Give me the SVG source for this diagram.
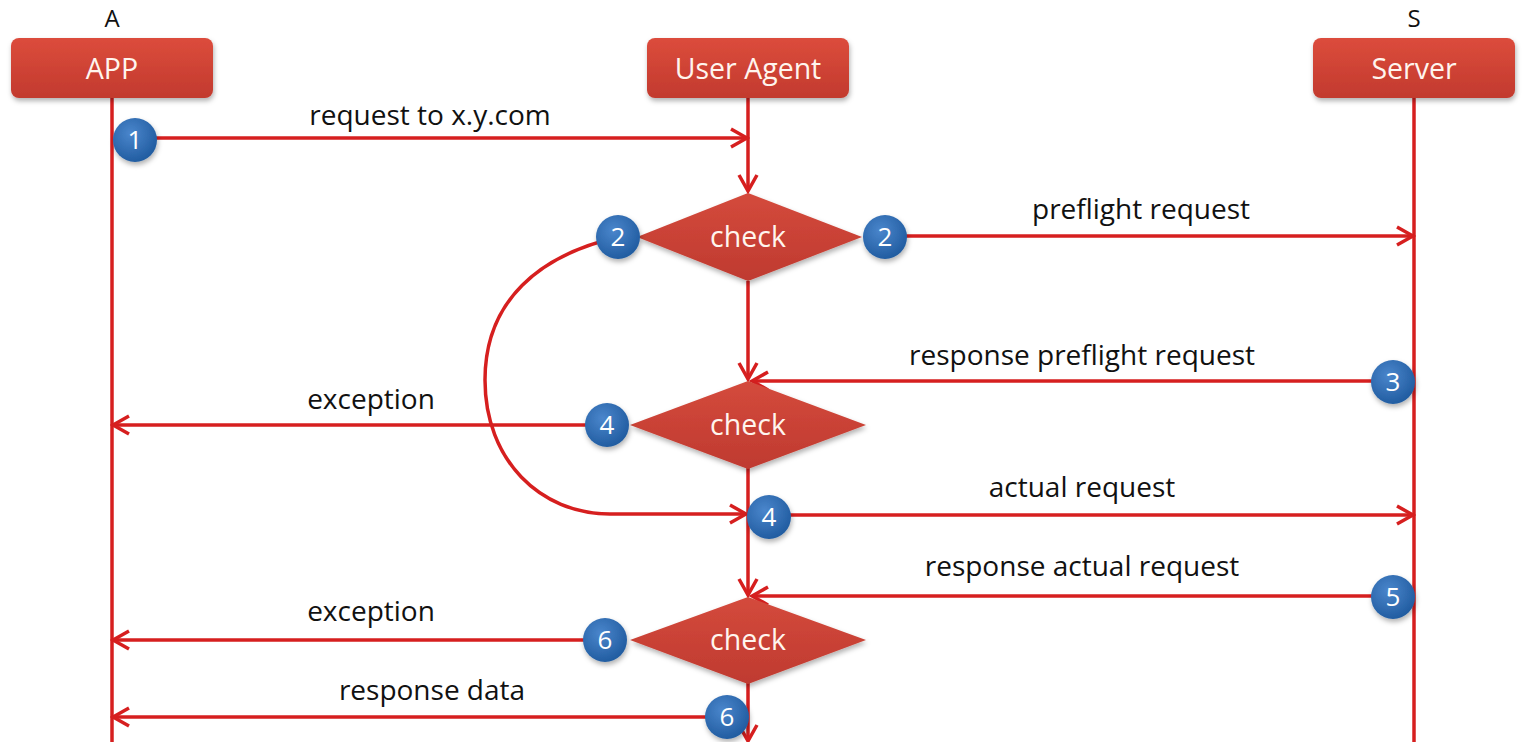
<svg xmlns="http://www.w3.org/2000/svg" width="1530" height="742" viewBox="0 0 1530 742">
<style>
.lbl{font-family:"Open Sans","Liberation Sans",sans-serif;font-size:28px;fill:#111;text-anchor:middle}
.top{font-family:"Open Sans","Liberation Sans",sans-serif;font-size:24px;fill:#111;text-anchor:middle}
.box{fill:url(#gBox);filter:url(#sh)}
.btxt{font-family:"Open Sans","Liberation Sans",sans-serif;font-size:28.5px;fill:#fff5ee;text-anchor:middle}
.ln{stroke:#d61f1f;stroke-width:3.5;fill:none}
.dia{fill:url(#gDia);filter:url(#sh)}
.num{fill:url(#gNum);filter:url(#sh)}
.ntxt{font-family:"Open Sans","Liberation Sans",sans-serif;font-size:26px;fill:#fff;text-anchor:middle}
</style>
<defs>
<linearGradient id="gBox" x1="0" y1="0" x2="0" y2="1"><stop offset="0" stop-color="#dc4c3c"/><stop offset="1" stop-color="#c23a2e"/></linearGradient>
<linearGradient id="gDia" x1="0" y1="0" x2="0" y2="1"><stop offset="0" stop-color="#d44a3c"/><stop offset="1" stop-color="#bf3a30"/></linearGradient>
<radialGradient id="gNum" cx="0.4" cy="0.35" r="0.7"><stop offset="0" stop-color="#4a86cc"/><stop offset="1" stop-color="#1f5a9e"/></radialGradient>
<filter id="sh" x="-20%" y="-20%" width="140%" height="150%"><feDropShadow dx="1" dy="3" stdDeviation="2.5" flood-color="#000" flood-opacity="0.3"/></filter>
<marker id="ah" viewBox="0 0 24 24" refX="21" refY="12" markerWidth="24" markerHeight="24" markerUnits="userSpaceOnUse" orient="auto"><path d="M5,3 L21,12 L5,21" fill="none" stroke="#d61f1f" stroke-width="3.5"/></marker>
</defs>
<rect width="1530" height="742" fill="#fff"/>
<text class="top" x="112" y="27">A</text>
<text class="top" x="1414" y="27">S</text>

<g id="connectors">
<line class="ln" x1="112" y1="98" x2="112" y2="742"/>
<line class="ln" x1="1414" y1="98" x2="1414" y2="742"/>
<line class="ln" x1="748" y1="98" x2="748" y2="191" marker-end="url(#ah)"/>
<line class="ln" x1="135" y1="138" x2="747" y2="138" marker-end="url(#ah)"/>
<line class="ln" x1="885" y1="236" x2="1413" y2="236" marker-end="url(#ah)"/>
<line class="ln" x1="748" y1="281" x2="748" y2="379" marker-end="url(#ah)"/>
<line class="ln" x1="1393" y1="381" x2="752" y2="381" marker-end="url(#ah)"/>
<line class="ln" x1="607" y1="425" x2="113" y2="425" marker-end="url(#ah)"/>
<path class="ln" d="M618,237 C540,255 485,300 485,380 C485,460 540,514 610,514 L746,514" marker-end="url(#ah)"/>
<line class="ln" x1="769" y1="515" x2="1413" y2="515" marker-end="url(#ah)"/>
<line class="ln" x1="748" y1="468" x2="748" y2="595" marker-end="url(#ah)"/>
<line class="ln" x1="1393" y1="596" x2="752" y2="596" marker-end="url(#ah)"/>
<line class="ln" x1="605" y1="640" x2="113" y2="640" marker-end="url(#ah)"/>
<line class="ln" x1="727" y1="717" x2="113" y2="717" marker-end="url(#ah)"/>
<line class="ln" x1="748" y1="683" x2="748" y2="741" marker-end="url(#ah)"/>
<text class="lbl" x="430" y="125">request to x.y.com</text>
<text class="lbl" x="1141" y="219">preflight request</text>
<text class="lbl" x="1082" y="365">response preflight request</text>
<text class="lbl" x="371" y="409">exception</text>
<text class="lbl" x="1082" y="497">actual request</text>
<text class="lbl" x="1082" y="576">response actual request</text>
<text class="lbl" x="371" y="621">exception</text>
<text class="lbl" x="432" y="700">response data</text>
</g>

<g id="app"><rect class="box" x="11" y="38" width="202" height="60" rx="8"/><text class="btxt" x="112" y="79">APP</text></g>
<g id="ua"><rect class="box" x="647" y="38" width="202" height="60" rx="8"/><text class="btxt" x="748" y="79">User Agent</text></g>
<g id="server"><rect class="box" x="1313" y="38" width="202" height="60" rx="8"/><text class="btxt" x="1414" y="79">Server</text></g>

<g id="check1"><polygon class="dia" points="748,193 862,237 748,281 637,237"/><text class="btxt" x="748" y="247">check</text></g>
<g id="check2"><polygon class="dia" points="748,381 866,425 748,469 630,425"/><text class="btxt" x="748" y="435">check</text></g>
<g id="check3"><polygon class="dia" points="748,597 866,640 748,684 630,640"/><text class="btxt" x="748" y="650">check</text></g>

<g id="n1"><circle class="num" cx="135" cy="140" r="22"/><text class="ntxt" x="135" y="149">1</text></g>
<g id="n2a"><circle class="num" cx="618" cy="237" r="22"/><text class="ntxt" x="618" y="246">2</text></g>
<g id="n2b"><circle class="num" cx="885" cy="237" r="22"/><text class="ntxt" x="885" y="246">2</text></g>
<g id="n3"><circle class="num" cx="1393" cy="382" r="22"/><text class="ntxt" x="1393" y="391">3</text></g>
<g id="n4a"><circle class="num" cx="607" cy="425" r="22"/><text class="ntxt" x="607" y="434">4</text></g>
<g id="n4b"><circle class="num" cx="769" cy="517" r="22"/><text class="ntxt" x="769" y="526">4</text></g>
<g id="n5"><circle class="num" cx="1393" cy="597" r="22"/><text class="ntxt" x="1393" y="606">5</text></g>
<g id="n6a"><circle class="num" cx="605" cy="640" r="22"/><text class="ntxt" x="605" y="649">6</text></g>
<g id="n6b"><circle class="num" cx="727" cy="717" r="22"/><text class="ntxt" x="727" y="726">6</text></g>
</svg>
